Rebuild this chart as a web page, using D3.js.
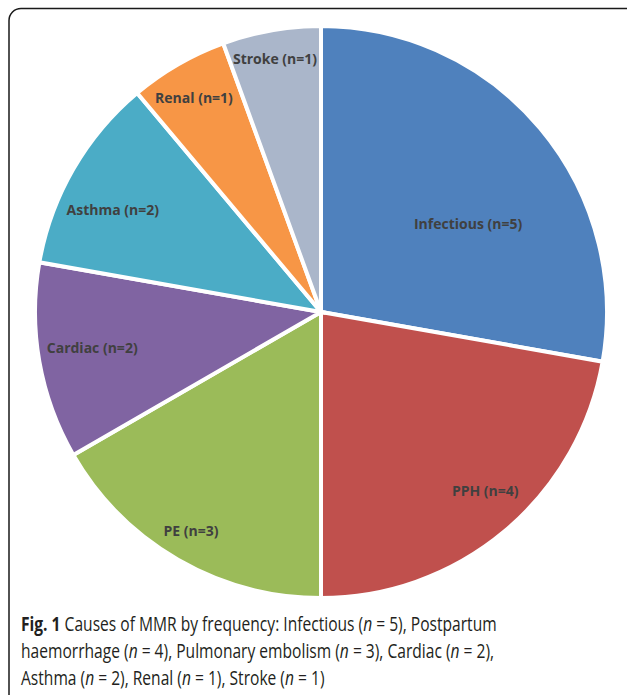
<!DOCTYPE html>
<html>
<head>
<meta charset="utf-8">
<script src="https://cdn.jsdelivr.net/npm/d3@7"></script>
<style>
  html, body { margin: 0; padding: 0; background: #fff; }
  svg { display: block; }
</style>
</head>
<body>
<div id="vis"></div>
<script>
// slices, clockwise from 12 o'clock (same order as the excel pie)
const causes = ["Infectious", "PPH", "PE", "Cardiac", "Asthma", "Renal", "Stroke"];
const counts = [5, 4, 3, 2, 2, 1, 1];
const sliceColors = ["#4f81bd", "#c0504d", "#9bbb59", "#8064a2", "#4bacc6", "#f79646", "#aab6ca"];

// caption lines: [text, style] pieces
const captionLines = [
    [["Fig. 1", "b"], [" Causes of MMR by frequency: Infectious (", ""], ["n", "i"], [" = 5), Postpartum", ""]],
    [["haemorrhage (", ""], ["n", "i"], [" = 4), Pulmonary embolism (", ""], ["n", "i"], [" = 3), Cardiac (", ""], ["n", "i"], [" = 2),", ""]],
    [["Asthma (", ""], ["n", "i"], [" = 2), Renal (", ""], ["n", "i"], [" = 1), Stroke (", ""], ["n", "i"], [" = 1)", ""]]
];

const width = 627;
const height = 695;
const cx = 321, cy = 312, radius = 286;

// excel "best fit" labels don't sit on the mid angle, so nudge them (angle offset deg, radius fraction)
const labelPlacement = [[9, 0.6], [-2.5, 0.85], [0.7, 0.89], [1, 0.81], [-4, 0.81], [-0.7, 0.87], [-0.3, 0.9]];

const svg = d3.select("#vis").append("svg")
    .attr("width", width)
    .attr("height", height);

// frame around the figure
svg.append("rect")
    .attr("x", 9)
    .attr("y", 8.5)
    .attr("width", 640)
    .attr("height", 720)
    .attr("rx", 12)
    .attr("fill", "none")
    .attr("stroke", "#1a1a1a")
    .attr("stroke-width", 1.5);

const data = causes.map((c, i) => ({ cause: c, n: counts[i], color: sliceColors[i] }));

const pie = d3.pie()
    .value(d => d.n)
    .sort(null);

const arc = d3.arc()
    .innerRadius(0)
    .outerRadius(radius);

const arcs = pie(data);

const g = svg.append("g")
    .attr("transform", `translate(${cx},${cy})`);

g.selectAll("path")
    .data(arcs)
    .join("path")
    .attr("d", arc)
    .attr("fill", d => d.data.color)
    .attr("stroke", "#fff")
    .attr("stroke-width", 4)
    .attr("stroke-linejoin", "miter");

g.selectAll(".slice-label")
    .data(arcs)
    .join("text")
    .attr("class", "slice-label")
    .attr("transform", (d, i) => {
        const [dAng, frac] = labelPlacement[i];
        const a = (d.startAngle + d.endAngle) / 2 + dAng * Math.PI / 180;
        const r = radius * frac;
        return `translate(${r * Math.sin(a)},${-r * Math.cos(a)})`;
    })
    .attr("text-anchor", "middle")
    .attr("dy", "0.35em")
    .style("font-family", "'Open Sans', 'Liberation Sans', sans-serif")
    .style("font-weight", "bold")
    .style("font-size", "14px")
    .attr("fill", "#404040")
    .text(d => `${d.data.cause} (n=${d.data.n})`);

// caption
const captionX = 21;
const captionY = [631, 658, 685];

captionLines.forEach((line, li) => {
    const t = svg.append("text")
        .attr("class", "caption")
        .attr("x", captionX)
        .attr("y", captionY[li])
        .style("font-family", "'Open Sans', 'Noto Sans', sans-serif")
        .style("font-size", "20px")
        .attr("fill", "#231f20");
    line.forEach(([txt, st]) => {
        t.append("tspan")
            .style("font-weight", st === "b" ? "bold" : "normal")
            .style("font-style", st === "i" ? "italic" : "normal")
            .text(txt);
    });
});

// squeeze caption to the narrow journal font width (first line is ~476px wide)
const squeeze = 476 / svg.select(".caption").node().getComputedTextLength();
svg.selectAll(".caption")
    .attr("x", captionX / squeeze)
    .attr("transform", `scale(${squeeze},1)`);
</script>
</body>
</html>
